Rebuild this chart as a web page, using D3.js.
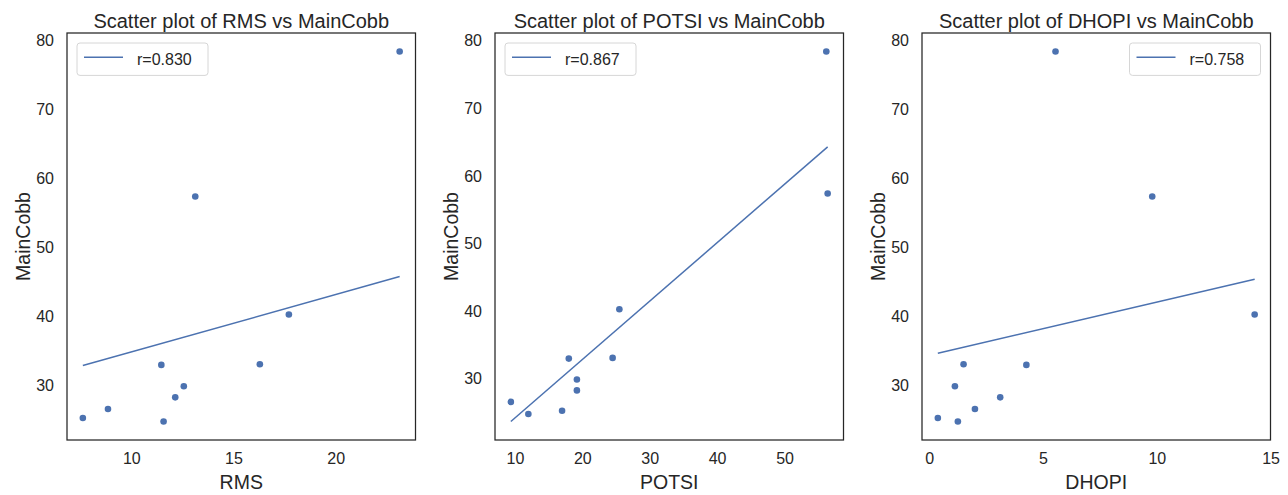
<!DOCTYPE html>
<html lang="en">
<head>
<meta charset="utf-8">
<title>Scatter plots vs MainCobb</title>
<script src="https://cdn.jsdelivr.net/npm/d3@7"></script>
<style>
    body { margin: 0; background: #fff; }
    text { font-family: "Liberation Sans", Arial, sans-serif; fill: #262626; }
    .tick text { font-size: 16px; }
    .axis-label { font-size: 19.5px; }
    .title { font-size: 20px; }
    .legend text { font-size: 16px; }
</style>
</head>
<body>
<script>
    // values, same subject order in every array
    var mainCobb = [78.3, 57.3, 40.2, 32.9, 33.0, 29.8, 28.2, 26.5, 25.2, 24.7];
    var rms      = [23.13, 13.13, 17.71, 11.47, 16.29, 12.57, 12.15, 8.86, 7.63, 11.58];
    var potsi    = [56.2, 56.4, 25.5, 18.0, 24.5, 19.2, 19.2, 9.4, 17.0, 12.0];
    var dhopi    = [5.55, 9.80, 14.30, 4.27, 1.51, 1.13, 3.12, 2.01, 0.38, 1.26];

    var features = ["RMS", "POTSI", "DHOPI"];
    var featureValues = [rms, potsi, dhopi];
    var rLabels = ["r=0.830", "r=0.867", "r=0.758"];

    // fitted line end points (x, y) per panel
    var fitX = [[7.63, 23.13], [9.4, 56.4], [0.38, 14.30]];
    var fitY = [[32.8, 45.7], [23.6, 64.2], [34.6, 45.3]];

    var xTicks = [[10, 15, 20], [10, 20, 30, 40, 50], [0, 5, 10, 15]];
    var yTicks = [30, 40, 50, 60, 70, 80];
    var legendSide = ["left", "left", "right"];

    var W = 1288, H = 495;
    var panelLeft = [67, 495, 922],
        panelW = 348.5,
        panelTop = 33,
        panelH = 407;
    var blue = "#4C72B0";

    var svg = d3.select("body").append("svg")
        .attr("width", W)
        .attr("height", H);

    // matplotlib style autoscale: 5% margin around the data
    function padded(vals) {
        var ext = d3.extent(vals);
        var m = (ext[1] - ext[0]) * 0.05;
        return [ext[0] - m, ext[1] + m];
    }

    features.forEach(function(name, i) {
        var xs = featureValues[i];
        var x = d3.scaleLinear()
            .domain(padded(xs.concat(fitX[i])))
            .range([0, panelW]);
        var y = d3.scaleLinear()
            .domain(padded(mainCobb.concat(fitY[i])))
            .range([panelH, 0]);

        var g = svg.append("g")
            .attr("transform", "translate(" + panelLeft[i] + "," + panelTop + ")");

        var xAxis = g.append("g")
            .attr("transform", "translate(0," + panelH + ")")
            .call(d3.axisBottom(x).tickValues(xTicks[i]).tickSize(0).tickPadding(13));
        var yAxis = g.append("g")
            .call(d3.axisLeft(y).tickValues(yTicks).tickSize(0).tickPadding(13));
        xAxis.select(".domain").remove();
        yAxis.select(".domain").remove();
        xAxis.selectAll(".tick text").attr("dy", "0.71em");
        yAxis.selectAll(".tick text").attr("dy", "0.36em");

        // fitted line
        var line = d3.line()
            .x(function(d) { return x(d[0]); })
            .y(function(d) { return y(d[1]); });
        g.append("path")
            .datum([[fitX[i][0], fitY[i][0]], [fitX[i][1], fitY[i][1]]])
            .attr("d", line)
            .attr("fill", "none")
            .attr("stroke", blue)
            .attr("stroke-width", 1.5);

        g.selectAll("circle")
            .data(xs)
            .enter().append("circle")
            .attr("cx", function(d) { return x(d); })
            .attr("cy", function(d, j) { return y(mainCobb[j]); })
            .attr("r", 3.3)
            .attr("fill", blue);

        // frame
        g.append("rect")
            .attr("width", panelW)
            .attr("height", panelH)
            .attr("fill", "none")
            .attr("stroke", "#262626")
            .attr("stroke-width", 1.25);

        // legend
        var lw = 131, lh = 32.4;
        var lx = legendSide[i] === "left" ? 10 : panelW - 10 - lw;
        var leg = g.append("g")
            .attr("class", "legend")
            .attr("transform", "translate(" + lx + ",10)");
        leg.append("rect")
            .attr("width", lw)
            .attr("height", lh)
            .attr("rx", 3)
            .attr("fill", "#fff")
            .attr("stroke", "#d6d6d6")
            .attr("stroke-width", 1);
        leg.append("line")
            .attr("x1", 7).attr("x2", 46)
            .attr("y1", lh / 2 - 2).attr("y2", lh / 2 - 2)
            .attr("stroke", blue)
            .attr("stroke-width", 1.5);
        leg.append("text")
            .attr("x", 60)
            .attr("y", lh / 2 + 5.5)
            .text(rLabels[i]);

        g.append("text")
            .attr("class", "title")
            .attr("x", panelW / 2)
            .attr("y", -5)
            .attr("text-anchor", "middle")
            .text("Scatter plot of " + name + " vs MainCobb");

        g.append("text")
            .attr("class", "axis-label")
            .attr("x", panelW / 2)
            .attr("y", panelH + 49)
            .attr("text-anchor", "middle")
            .text(name);

        g.append("text")
            .attr("class", "axis-label")
            .attr("transform", "translate(-37," + panelH / 2 + ") rotate(-90)")
            .attr("text-anchor", "middle")
            .text("MainCobb");
    });
</script>
</body>
</html>
